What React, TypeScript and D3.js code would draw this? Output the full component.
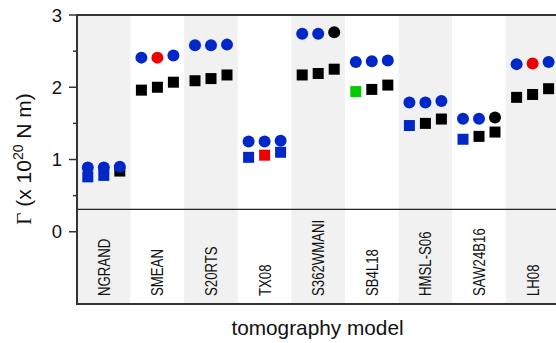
import React from "react";
import * as d3 from "d3";

const categories = ["NGRAND", "SMEAN", "S20RTS", "TX08", "S362WMANI", "SB4L18", "HMSL-S06", "SAW24B16", "LH08"];

// circle series (upper row), three per model
const circleA = [0.89, 2.41, 2.58, 1.25, 2.74, 2.35, 1.79, 1.565, 2.32];
const circleB = [0.89, 2.41, 2.58, 1.25, 2.74, 2.36, 1.79, 1.565, 2.33];
const circleC = [0.9, 2.44, 2.59, 1.26, 2.76, 2.37, 1.81, 1.58, 2.35];
const circleColA = ["b", "b", "b", "b", "b", "b", "b", "b", "b"];
const circleColB = ["b", "r", "b", "b", "b", "b", "b", "b", "r"];
const circleColC = ["b", "b", "b", "b", "k", "b", "b", "k", "b"];

// square series (lower row)
const squareA = [0.76, 1.96, 2.09, 1.03, 2.17, 1.94, 1.47, 1.28, 1.86];
const squareB = [0.78, 2.0, 2.12, 1.06, 2.19, 1.97, 1.5, 1.32, 1.9];
const squareC = [0.84, 2.07, 2.17, 1.1, 2.25, 2.03, 1.56, 1.38, 1.98];
const squareColA = ["b", "k", "k", "b", "k", "g", "b", "b", "k"];
const squareColB = ["b", "k", "k", "r", "k", "k", "k", "k", "k"];
const squareColC = ["k", "k", "k", "b", "k", "k", "k", "k", "k"];

const majorTicks = [0, 1, 2, 3];
const minorTicks = [0.5, 1.5, 2.5];
const separatorValue = 0.31;

const COLORS: Record<string, string> = { b: "#0028c8", r: "#ee0000", g: "#00cc00", k: "#000000" };
const FONT = "'Liberation Sans', Arial, Helvetica, sans-serif";

export default function App() {
  const W = 556, H = 343;
  const left = 77, right = 559.4, top = 15, bottom = 304;
  const x = d3.scaleBand<string>().domain(categories).range([left, right]).padding(0);
  const y = d3.scaleLinear().domain([-1, 3]).range([bottom, top]);
  const bw = x.bandwidth();
  const offsets = [-16, 0, 16];
  const circles = [
    { v: circleA, c: circleColA },
    { v: circleB, c: circleColB },
    { v: circleC, c: circleColC },
  ];
  const squares = [
    { v: squareA, c: squareColA },
    { v: squareB, c: squareColB },
    { v: squareC, c: squareColC },
  ];
  const sq = 11;
  return (
    <svg width={W} height={H} style={{ position: "absolute", left: 0, top: 0, background: "#fff" }} fontFamily={FONT}>
      <defs>
        <clipPath id="plotclip">
          <rect x={left} y={top} width={right - left} height={bottom - top} />
        </clipPath>
      </defs>
      {categories.map((c, i) => (
        <rect key={c} x={x(c)} y={top} width={bw} height={bottom - top} fill={i % 2 === 0 ? "#f1f1f1" : "#ffffff"} />
      ))}
      <g clipPath="url(#plotclip)">
        {squares.map((s, si) =>
          categories.map((c, i) => (
            <rect
              key={`s${si}${c}`}
              x={(x(c) as number) + bw / 2 + offsets[si] - sq / 2}
              y={y(s.v[i]) - sq / 2}
              width={sq}
              height={sq}
              fill={COLORS[s.c[i]]}
            />
          ))
        )}
        {circles.map((s, si) =>
          categories.map((c, i) => (
            <circle
              key={`c${si}${c}`}
              cx={(x(c) as number) + bw / 2 + offsets[si]}
              cy={y(s.v[i])}
              r={6}
              fill={COLORS[s.c[i]]}
            />
          ))
        )}
      </g>
      {categories.map((c) => {
        const cx = (x(c) as number) + bw / 2;
        return (
          <text
            key={`l${c}`}
            transform={`translate(${cx + 6},${bottom - 8}) rotate(-90) scale(0.8,1)`}
            fontSize={16.5}
            fill="#111"
          >
            {c}
          </text>
        );
      })}
      {/* frame */}
      <line x1={left} x2={W} y1={y(separatorValue)} y2={y(separatorValue)} stroke="#222" strokeWidth={1.4} />
      <line x1={left} x2={W} y1={top} y2={top} stroke="#333" strokeWidth={2} />
      <line x1={left} x2={W} y1={bottom} y2={bottom} stroke="#333" strokeWidth={2} />
      <line x1={left} x2={left} y1={top - 1} y2={bottom + 1} stroke="#333" strokeWidth={2} />
      {majorTicks.map((t) => (
        <g key={`t${t}`}>
          <line x1={left - 8} x2={left} y1={y(t)} y2={y(t)} stroke="#333" strokeWidth={1.5} />
          <text x={62} y={y(t)} dy="0.36em" textAnchor="end" fontSize={18.5} fill="#111">
            {t}
          </text>
        </g>
      ))}
      {minorTicks.map((t) => (
        <line key={`m${t}`} x1={left - 4} x2={left} y1={y(t)} y2={y(t)} stroke="#333" strokeWidth={1.5} />
      ))}
      <text transform={`translate(31,159) rotate(-90)`} textAnchor="middle" fontSize={21} fill="#111">
        <tspan fontFamily="'Liberation Serif', 'DejaVu Serif', serif">Γ</tspan>
        <tspan> (x 10</tspan>
        <tspan fontSize={14} dy={-8}>20</tspan>
        <tspan dy={8}> N m)</tspan>
      </text>
      <text x={317.5} y={335} textAnchor="middle" fontSize={20.8} fill="#111">
        tomography model
      </text>
    </svg>
  );
}
